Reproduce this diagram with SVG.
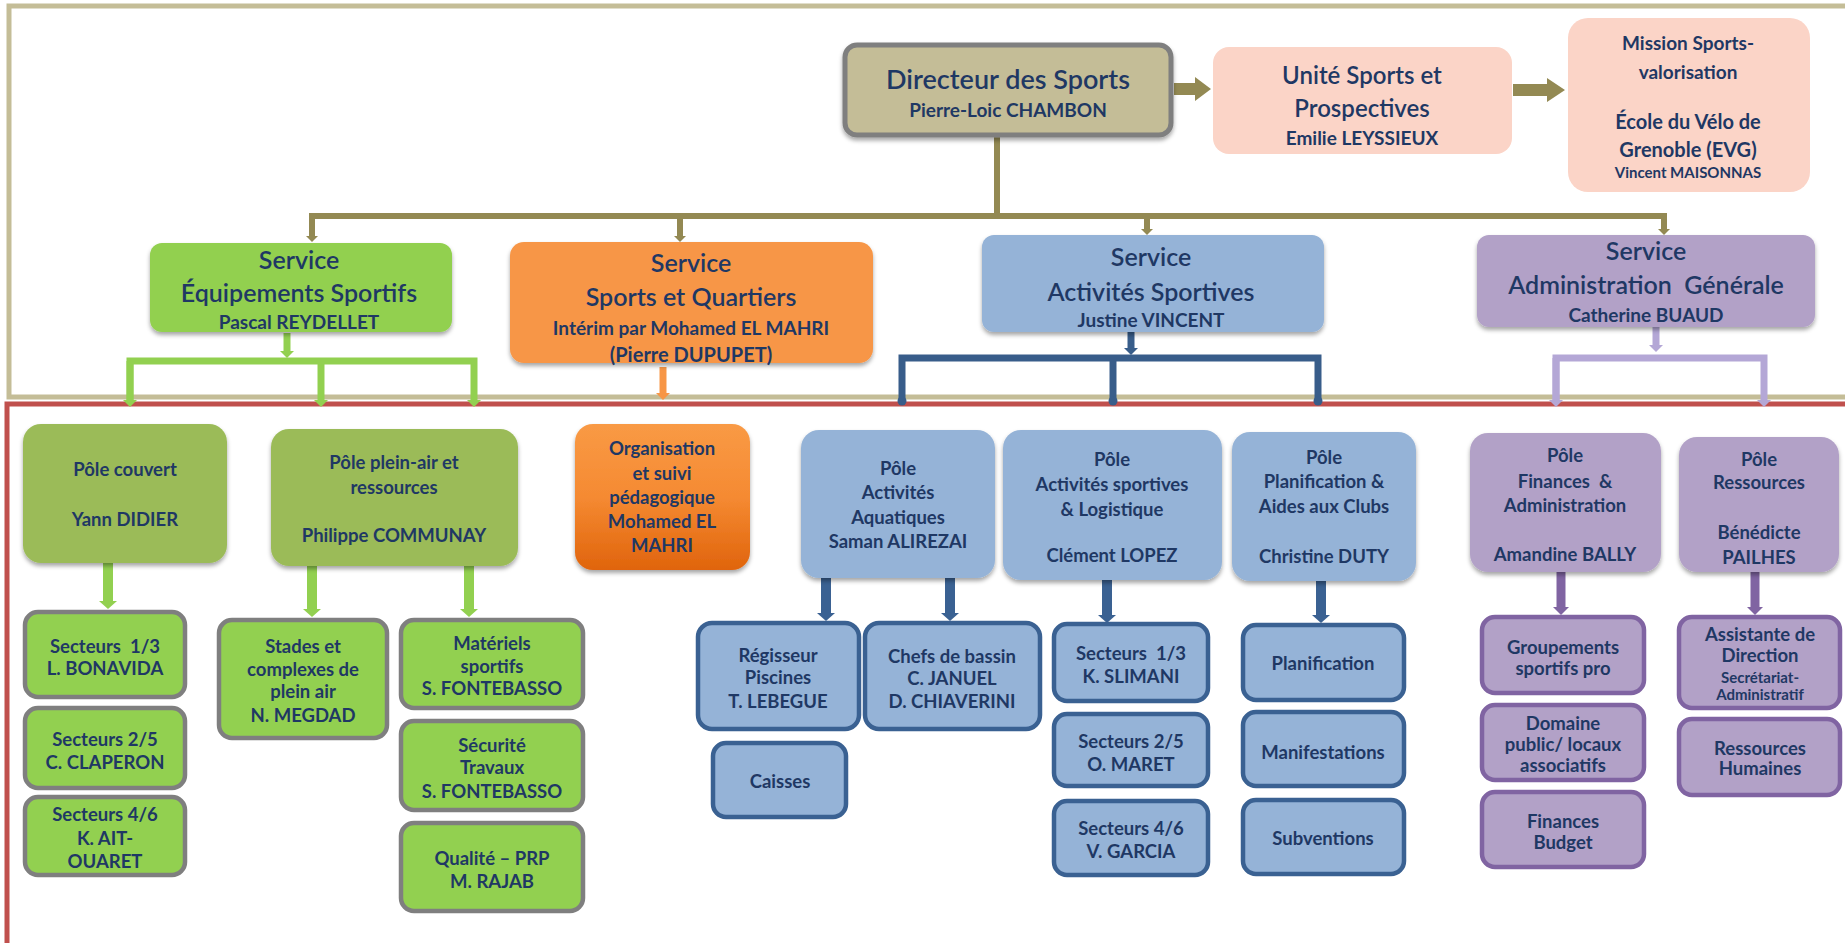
<svg xmlns="http://www.w3.org/2000/svg" width="1845" height="943" viewBox="0 0 1845 943">
<style>
text{font-family:Lato,"Liberation Sans",sans-serif;fill:#1f3864;text-anchor:middle;font-weight:700}
.t1{font-size:25px;font-weight:600}
.t2{font-size:19px}
.t3{font-size:18.5px}
.t4{font-size:15px}
.frameTan{fill:none;stroke:#c4bd97;stroke-width:5}
.frameRed{fill:none;stroke:#c0504d;stroke-width:5}
.olive{fill:none;stroke:#938953;stroke-width:6}
.oliveBlk{fill:#938953}
.gL{fill:none;stroke:#92d050;stroke-width:7}
.oL{fill:none;stroke:#f79646;stroke-width:7}
.bL{fill:none;stroke:#385d8a;stroke-width:7}
.pL{fill:none;stroke:#b4a7d6;stroke-width:7}
.gA{fill:none;stroke:#92d050;stroke-width:10}
.bA{fill:none;stroke:#3a6192;stroke-width:10}
.pA{fill:none;stroke:#8064a2;stroke-width:9}
.dir{fill:#c4bd97;stroke:#7f7f7f;stroke-width:5}
.pink{fill:#fbd4c7}
.svG{fill:#92d050}
.svO{fill:#f79646}
.svB{fill:#95b3d7}
.svP{fill:#b2a1c7}
.poG{fill:#9bbb59}
.poB{fill:#95b3d7}
.poP{fill:#b2a1c7}
.bxG{fill:#92d050;stroke:#7f7f7f;stroke-width:4.5}
.bxB{fill:#95b3d7;stroke:#3a6192;stroke-width:4.5}
.bxP{fill:#b2a1c7;stroke:#8064a2;stroke-width:4.5}
</style>
<defs>
<filter id="sh" x="-10%" y="-10%" width="120%" height="135%"><feDropShadow dx="0" dy="3" stdDeviation="2" flood-color="#000" flood-opacity="0.35"/></filter>
<linearGradient id="orgGrad" x1="0" y1="0" x2="0" y2="1"><stop offset="0" stop-color="#f99a45"/><stop offset="0.5" stop-color="#f58a32"/><stop offset="1" stop-color="#e0640c"/></linearGradient>
<marker id="mOl" markerUnits="userSpaceOnUse" viewBox="0 0 6 12" markerWidth="6" markerHeight="12" refX="0" refY="6" orient="auto"><path d="M0,0 L6,6 L0,12 z" fill="#938953"/></marker>
<marker id="mG" markerUnits="userSpaceOnUse" viewBox="0 0 7 14" markerWidth="7" markerHeight="14" refX="0" refY="7" orient="auto"><path d="M0,0 L7,7 L0,14 z" fill="#92d050"/></marker>
<marker id="mO" markerUnits="userSpaceOnUse" viewBox="0 0 7 14" markerWidth="7" markerHeight="14" refX="0" refY="7" orient="auto"><path d="M0,0 L7,7 L0,14 z" fill="#f79646"/></marker>
<marker id="mB" markerUnits="userSpaceOnUse" viewBox="0 0 7 14" markerWidth="7" markerHeight="14" refX="0" refY="7" orient="auto"><path d="M0,0 L7,7 L0,14 z" fill="#385d8a"/></marker>
<marker id="mP" markerUnits="userSpaceOnUse" viewBox="0 0 7 14" markerWidth="7" markerHeight="14" refX="0" refY="7" orient="auto"><path d="M0,0 L7,7 L0,14 z" fill="#b4a7d6"/></marker>
<marker id="mBd" markerUnits="userSpaceOnUse" viewBox="0 0 10 10" markerWidth="10" markerHeight="10" refX="5" refY="5" orient="auto"><circle cx="5" cy="5" r="4.5" fill="#385d8a"/></marker>
<marker id="mGA" markerUnits="userSpaceOnUse" viewBox="0 0 8 18" markerWidth="8" markerHeight="18" refX="0" refY="9" orient="auto"><path d="M0,0 L8,9 L0,18 z" fill="#92d050"/></marker>
<marker id="mBA" markerUnits="userSpaceOnUse" viewBox="0 0 8 18" markerWidth="8" markerHeight="18" refX="0" refY="9" orient="auto"><path d="M0,0 L8,9 L0,18 z" fill="#3a6192"/></marker>
<marker id="mPA" markerUnits="userSpaceOnUse" viewBox="0 0 8 16" markerWidth="8" markerHeight="16" refX="0" refY="8" orient="auto"><path d="M0,0 L8,8 L0,16 z" fill="#8064a2"/></marker>
</defs>
<rect width="1845" height="943" fill="#fff"/>
<rect class="frameTan" x="9" y="6" width="1850" height="391"/>
<rect class="frameRed" x="7" y="404" width="1850" height="560"/>

<g id="connectors">
<polygon class="oliveBlk" points="1174,83 1195,83 1195,77 1211,89 1195,101 1195,95 1174,95"/>
<polygon class="oliveBlk" points="1513,84 1547,84 1547,78 1565,90 1547,102 1547,96 1513,96"/>
<path class="olive" d="M997,135 V216"/>
<path class="olive" d="M309,216 H1667"/>
<path class="olive" d="M312,216 V236" marker-end="url(#mOl)"/>
<path class="olive" d="M680,216 V236" marker-end="url(#mOl)"/>
<path class="olive" d="M1147,216 V229" marker-end="url(#mOl)"/>
<path class="olive" d="M1664,216 V229" marker-end="url(#mOl)"/>
<path class="gL" d="M287,333 V351" marker-end="url(#mG)"/>
<path class="gL" d="M130,400 V361 H474 V400" marker-end="url(#mG)"/>
<path class="gL" d="M130,361 V400" marker-end="url(#mG)"/>
<path class="gL" d="M321,361 V400" marker-end="url(#mG)"/>
<path class="oL" d="M663,367 V393" marker-end="url(#mO)"/>
<path class="bL" d="M1131,330 V348" marker-end="url(#mB)"/>
<path class="bL" d="M902,401 V358 H1318 V401" marker-start="url(#mBd)" marker-end="url(#mBd)"/>
<path class="bL" d="M1113,358 V401" marker-end="url(#mBd)"/>
<path class="pL" d="M1656,325 V345" marker-end="url(#mP)"/>
<path class="pL" d="M1556,400 V358 H1764 V400" marker-end="url(#mP)"/>
<path class="pL" d="M1556,358 V400" marker-end="url(#mP)"/>
<path class="gA" d="M108,561 V601" marker-end="url(#mGA)"/>
<path class="gA" d="M312,564 V609" marker-end="url(#mGA)"/>
<path class="gA" d="M469,564 V609" marker-end="url(#mGA)"/>
<path class="bA" d="M826,575 V613" marker-end="url(#mBA)"/>
<path class="bA" d="M950,575 V613" marker-end="url(#mBA)"/>
<path class="bA" d="M1107,577 V615" marker-end="url(#mBA)"/>
<path class="bA" d="M1321,577 V615" marker-end="url(#mBA)"/>
<path class="pA" d="M1561,569 V607" marker-end="url(#mPA)"/>
<path class="pA" d="M1755,569 V607" marker-end="url(#mPA)"/>
</g>

<g id="directeur"><rect class="dir" x="845" y="45" width="326" height="90" rx="12" filter="url(#sh)"/>
<text x="1008" y="89" style="font-size:27px;font-weight:600">Directeur des Sports</text>
<text class="t2" x="1008" y="117">Pierre-Loic CHAMBON</text></g>

<g id="unite"><rect class="pink" x="1213" y="47" width="299" height="107" rx="16"/>
<text x="1362" y="84" style="font-size:24px;font-weight:600">Unité Sports et</text>
<text x="1362" y="117" style="font-size:24px;font-weight:600">Prospectives</text>
<text class="t2" x="1362" y="145">Emilie LEYSSIEUX</text></g>

<g id="mission"><rect class="pink" x="1568" y="18" width="242" height="174" rx="20"/>
<text class="t2" x="1688" y="50">Mission Sports-</text>
<text class="t2" x="1688" y="79">valorisation</text>
<text x="1688" y="129" style="font-size:20px">École du Vélo de</text>
<text x="1688" y="157" style="font-size:20px">Grenoble (EVG)</text>
<text class="t4" x="1688" y="178">Vincent MAISONNAS</text></g>

<g id="svc-equipements"><rect class="svG" x="150" y="243" width="302" height="89" rx="12" filter="url(#sh)"/>
<text class="t1" x="299" y="269">Service</text>
<text class="t1" x="299" y="302">Équipements Sportifs</text>
<text class="t2" x="299" y="329">Pascal REYDELLET</text></g>

<g id="svc-quartiers"><rect class="svO" x="510" y="242" width="363" height="121" rx="14" filter="url(#sh)"/>
<text class="t1" x="691" y="272">Service</text>
<text class="t1" x="691" y="306">Sports et Quartiers</text>
<text class="t2" x="691" y="335">Intérim par Mohamed EL MAHRI</text>
<text x="691" y="362" style="font-size:20px">(Pierre DUPUPET)</text></g>

<g id="svc-activites"><rect class="svB" x="982" y="235" width="342" height="97" rx="12" filter="url(#sh)"/>
<text class="t1" x="1151" y="266">Service</text>
<text class="t1" x="1151" y="301">Activités Sportives</text>
<text class="t2" x="1151" y="327">Justine VINCENT</text></g>

<g id="svc-admin"><rect class="svP" x="1477" y="235" width="338" height="92" rx="12" filter="url(#sh)"/>
<text class="t1" x="1646" y="260">Service</text>
<text class="t1" x="1646" y="294" xml:space="preserve">Administration  Générale</text>
<text class="t2" x="1646" y="322">Catherine BUAUD</text></g>

<g id="pole-couvert"><rect class="poG" x="23" y="424" width="204" height="139" rx="18" filter="url(#sh)"/>
<text class="t3" x="125" y="476">Pôle couvert</text>
<text class="t3" x="125" y="526">Yann DIDIER</text></g>

<g id="pole-pleinair"><rect class="poG" x="271" y="429" width="247" height="137" rx="18" filter="url(#sh)"/>
<text class="t3" x="394" y="469">Pôle plein-air et</text>
<text class="t3" x="394" y="494">ressources</text>
<text class="t3" x="394" y="542">Philippe COMMUNAY</text></g>

<g id="g-sect13"><rect class="bxG" x="25" y="612" width="160" height="85" rx="13"/>
<text class="t3" x="105" y="653" xml:space="preserve">Secteurs  1/3</text>
<text class="t3" x="105" y="675">L. BONAVIDA</text></g>
<g id="g-sect25"><rect class="bxG" x="25" y="708" width="160" height="80" rx="13"/>
<text class="t3" x="105" y="746">Secteurs 2/5</text>
<text class="t3" x="105" y="769">C. CLAPERON</text></g>
<g id="g-sect46"><rect class="bxG" x="25" y="797" width="160" height="78" rx="13"/>
<text class="t3" x="105" y="821">Secteurs 4/6</text>
<text class="t3" x="105" y="845">K. AIT-</text>
<text class="t3" x="105" y="868">OUARET</text></g>

<g id="g-stades"><rect class="bxG" x="219" y="620" width="168" height="118" rx="13"/>
<text class="t3" x="303" y="653">Stades et</text>
<text class="t3" x="303" y="676">complexes de</text>
<text class="t3" x="303" y="698">plein air</text>
<text class="t3" x="303" y="722">N. MEGDAD</text></g>
<g id="g-materiels"><rect class="bxG" x="401" y="620" width="182" height="88" rx="13"/>
<text class="t3" x="492" y="650">Matériels</text>
<text class="t3" x="492" y="673">sportifs</text>
<text class="t3" x="492" y="695">S. FONTEBASSO</text></g>
<g id="g-securite"><rect class="bxG" x="401" y="721" width="182" height="89" rx="13"/>
<text class="t3" x="492" y="752">Sécurité</text>
<text class="t3" x="492" y="774">Travaux</text>
<text class="t3" x="492" y="798">S. FONTEBASSO</text></g>
<g id="g-qualite"><rect class="bxG" x="401" y="823" width="182" height="88" rx="13"/>
<text class="t3" x="492" y="865">Qualité – PRP</text>
<text class="t3" x="492" y="888">M. RAJAB</text></g>

<g id="org-suivi"><rect x="575" y="424" width="175" height="146" rx="18" fill="url(#orgGrad)" filter="url(#sh)"/>
<text class="t3" x="662" y="455">Organisation</text>
<text class="t3" x="662" y="480">et suivi</text>
<text class="t3" x="662" y="504">pédagogique</text>
<text class="t3" x="662" y="528">Mohamed EL</text>
<text class="t3" x="662" y="552">MAHRI</text></g>

<g id="pole-aquatiques"><rect class="poB" x="801" y="430" width="194" height="148" rx="18" filter="url(#sh)"/>
<text class="t3" x="898" y="475">Pôle</text>
<text class="t3" x="898" y="499">Activités</text>
<text class="t3" x="898" y="524">Aquatiques</text>
<text class="t3" x="898" y="548">Saman ALIREZAI</text></g>
<g id="pole-logistique"><rect class="poB" x="1003" y="430" width="219" height="150" rx="18" filter="url(#sh)"/>
<text class="t3" x="1112" y="466">Pôle</text>
<text class="t3" x="1112" y="491">Activités sportives</text>
<text class="t3" x="1112" y="516">&amp; Logistique</text>
<text class="t3" x="1112" y="562">Clément LOPEZ</text></g>
<g id="pole-planification"><rect class="poB" x="1232" y="432" width="184" height="149" rx="18" filter="url(#sh)"/>
<text class="t3" x="1324" y="464">Pôle</text>
<text class="t3" x="1324" y="488">Planification &amp;</text>
<text class="t3" x="1324" y="513">Aides aux Clubs</text>
<text class="t3" x="1324" y="563">Christine DUTY</text></g>

<g id="b-regisseur"><rect class="bxB" x="698" y="623" width="161" height="106" rx="14"/>
<text class="t3" x="778" y="662">Régisseur</text>
<text class="t3" x="778" y="684">Piscines</text>
<text class="t3" x="778" y="708">T. LEBEGUE</text></g>
<g id="b-chefs"><rect class="bxB" x="865" y="623" width="175" height="106" rx="14"/>
<text class="t3" x="952" y="663">Chefs de bassin</text>
<text class="t3" x="952" y="685">C. JANUEL</text>
<text class="t3" x="952" y="708">D. CHIAVERINI</text></g>
<g id="b-caisses"><rect class="bxB" x="713" y="743" width="133" height="74" rx="13"/>
<text class="t3" x="780" y="788">Caisses</text></g>
<g id="b-sect13"><rect class="bxB" x="1054" y="624" width="154" height="77" rx="13"/>
<text class="t3" x="1131" y="660" xml:space="preserve">Secteurs  1/3</text>
<text class="t3" x="1131" y="683">K. SLIMANI</text></g>
<g id="b-sect25"><rect class="bxB" x="1054" y="714" width="154" height="72" rx="13"/>
<text class="t3" x="1131" y="748">Secteurs 2/5</text>
<text class="t3" x="1131" y="771">O. MARET</text></g>
<g id="b-sect46"><rect class="bxB" x="1054" y="801" width="154" height="74" rx="13"/>
<text class="t3" x="1131" y="835">Secteurs 4/6</text>
<text class="t3" x="1131" y="858">V. GARCIA</text></g>
<g id="b-planification"><rect class="bxB" x="1243" y="625" width="161" height="75" rx="13"/>
<text class="t3" x="1323" y="670">Planification</text></g>
<g id="b-manifestations"><rect class="bxB" x="1243" y="712" width="161" height="74" rx="13"/>
<text class="t3" x="1323" y="759">Manifestations</text></g>
<g id="b-subventions"><rect class="bxB" x="1243" y="800" width="161" height="74" rx="13"/>
<text class="t3" x="1323" y="845">Subventions</text></g>

<g id="pole-finances"><rect class="poP" x="1470" y="433" width="191" height="139" rx="18" filter="url(#sh)"/>
<text class="t3" x="1565" y="462">Pôle</text>
<text class="t3" x="1565" y="488" xml:space="preserve">Finances  &amp;</text>
<text class="t3" x="1565" y="512">Administration</text>
<text class="t3" x="1565" y="561">Amandine BALLY</text></g>
<g id="pole-ressources"><rect class="poP" x="1679" y="437" width="160" height="135" rx="18" filter="url(#sh)"/>
<text class="t3" x="1759" y="466">Pôle</text>
<text class="t3" x="1759" y="489">Ressources</text>
<text class="t3" x="1759" y="539">Bénédicte</text>
<text class="t3" x="1759" y="564">PAILHES</text></g>

<g id="p-groupements"><rect class="bxP" x="1482" y="617" width="162" height="76" rx="13"/>
<text class="t3" x="1563" y="654">Groupements</text>
<text class="t3" x="1563" y="675">sportifs pro</text></g>
<g id="p-domaine"><rect class="bxP" x="1482" y="705" width="162" height="75" rx="13"/>
<text class="t3" x="1563" y="730">Domaine</text>
<text class="t3" x="1563" y="751">public/ locaux</text>
<text class="t3" x="1563" y="772">associatifs</text></g>
<g id="p-finances"><rect class="bxP" x="1482" y="792" width="162" height="75" rx="13"/>
<text class="t3" x="1563" y="828">Finances</text>
<text class="t3" x="1563" y="849">Budget</text></g>
<g id="p-assistante"><rect class="bxP" x="1679" y="617" width="161" height="91" rx="13"/>
<text class="t3" x="1760" y="641">Assistante de</text>
<text class="t3" x="1760" y="662">Direction</text>
<text class="t4" x="1760" y="683">Secrétariat-</text>
<text class="t4" x="1760" y="700">Administratif</text></g>
<g id="p-rh"><rect class="bxP" x="1679" y="719" width="161" height="76" rx="13"/>
<text class="t3" x="1760" y="755">Ressources</text>
<text class="t3" x="1760" y="775">Humaines</text></g>
</svg>
